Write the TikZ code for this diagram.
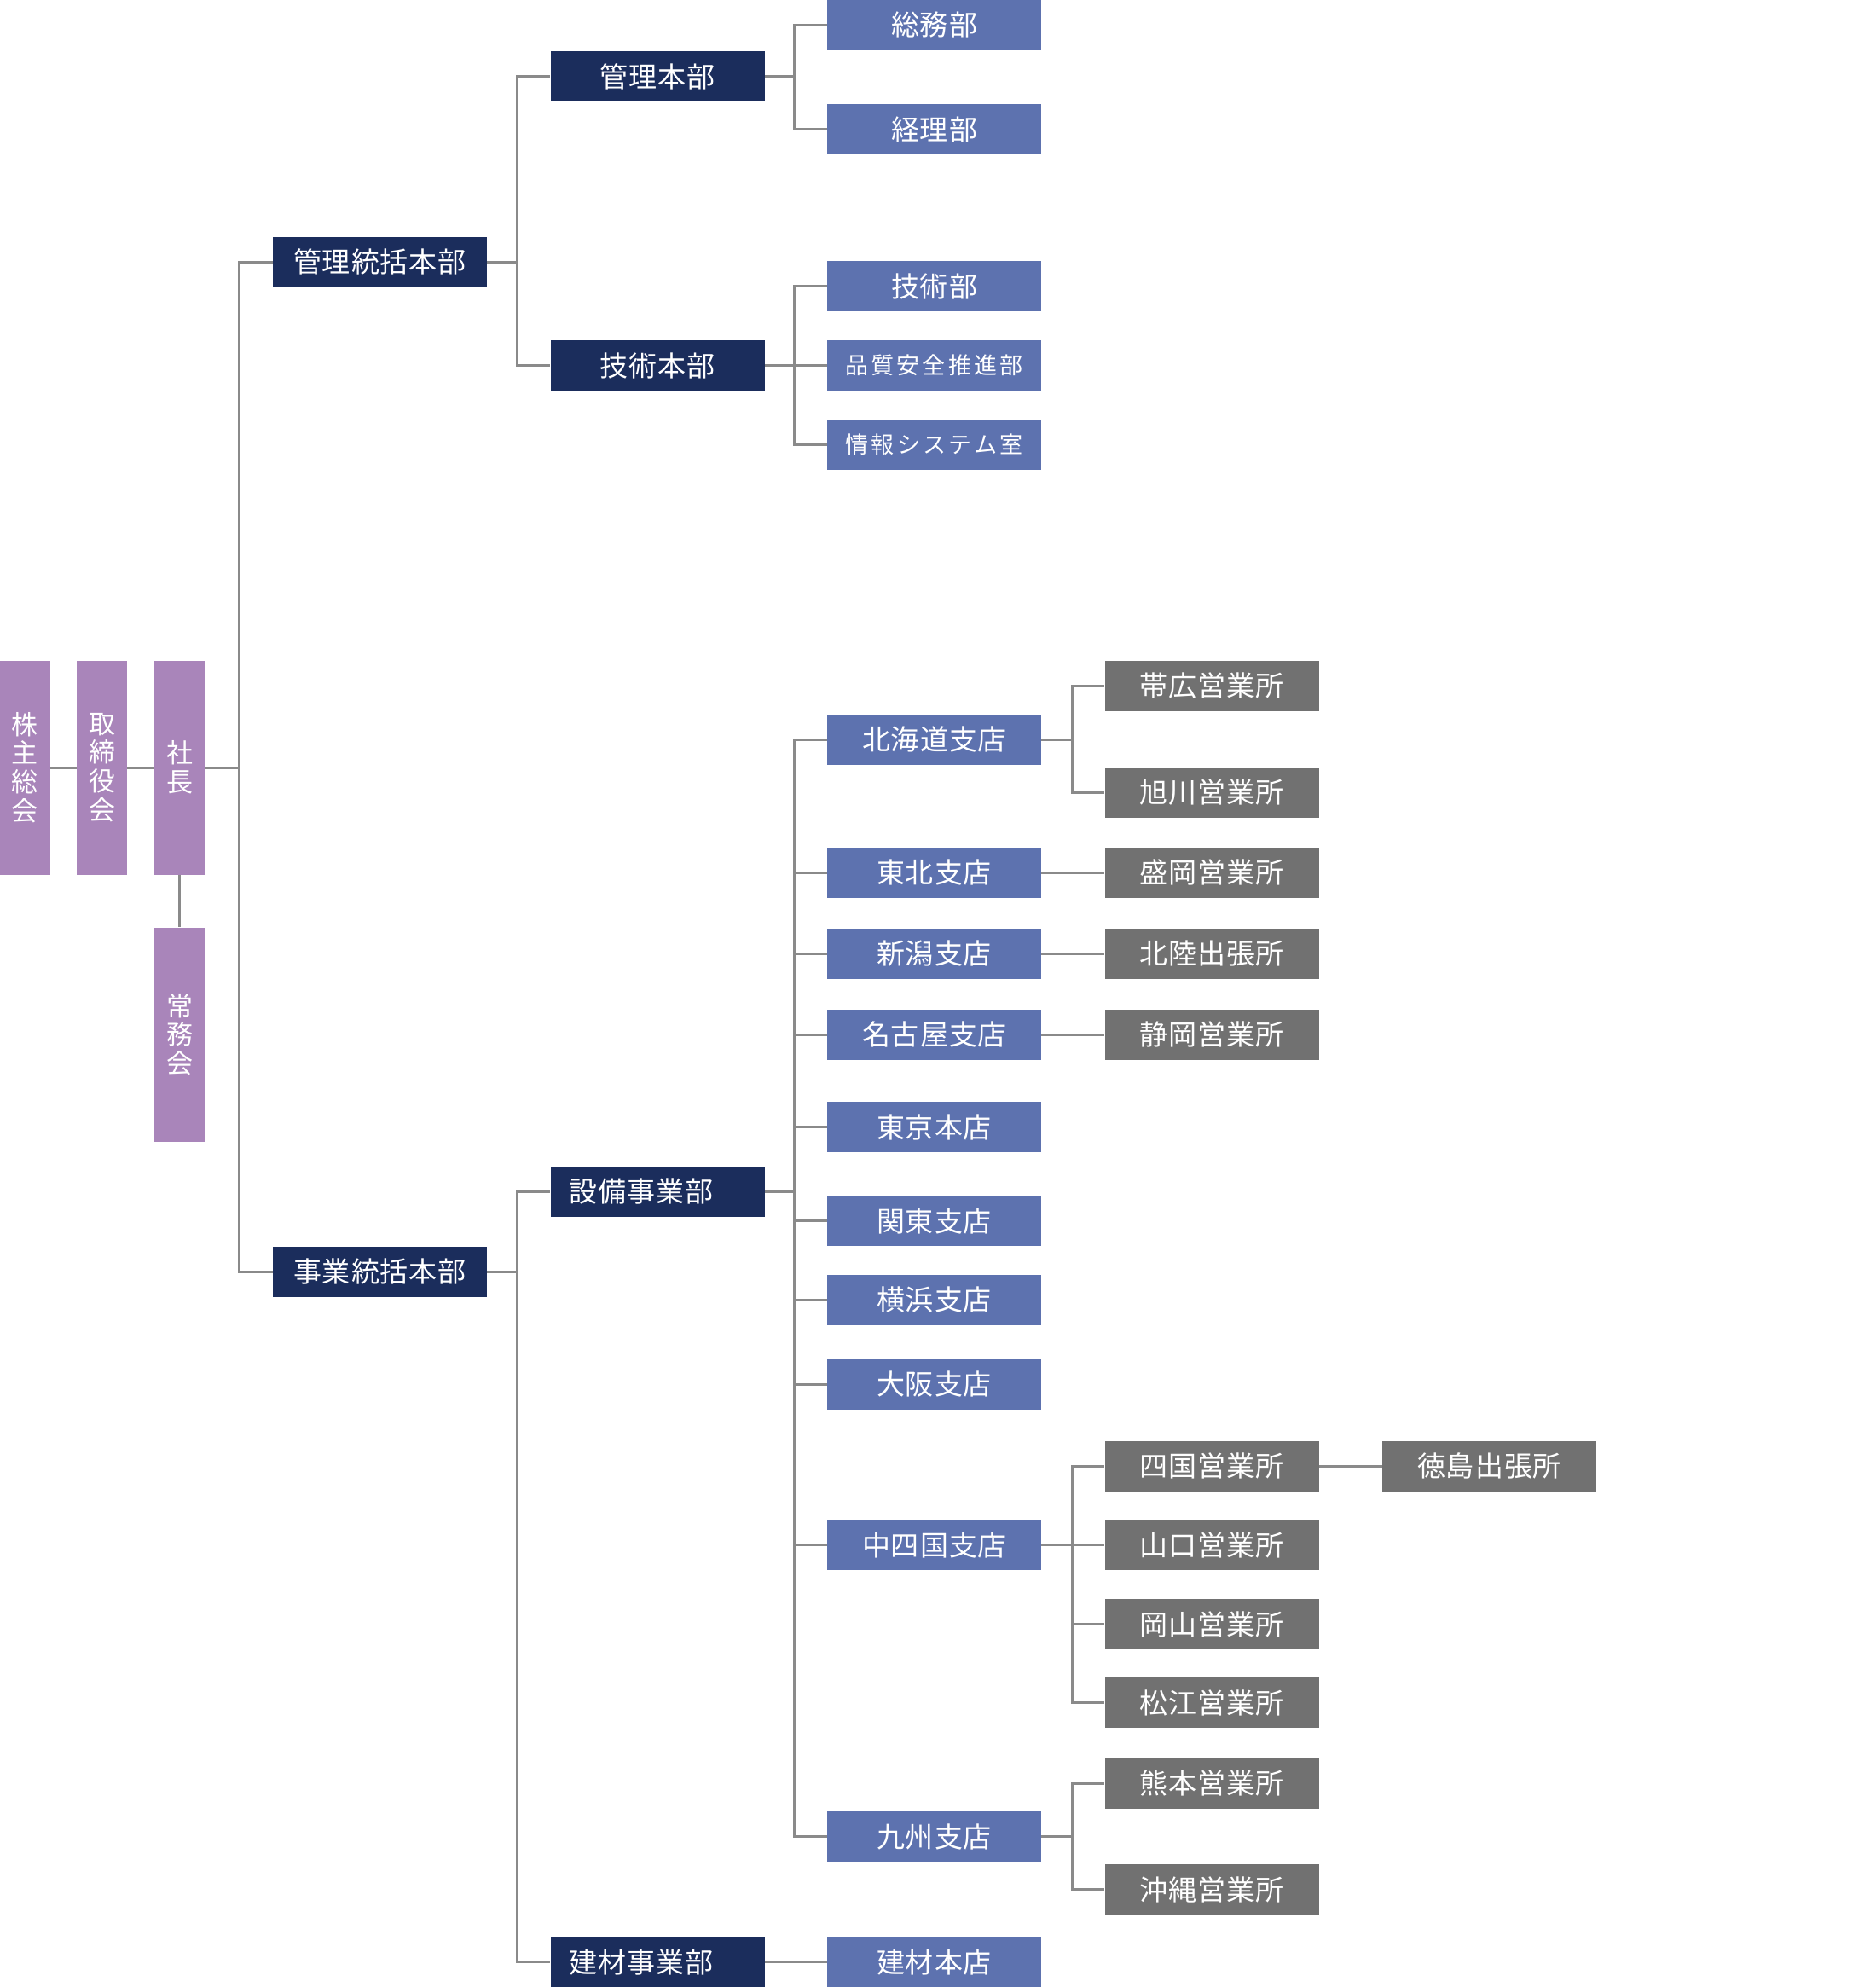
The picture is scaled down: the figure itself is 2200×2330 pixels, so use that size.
\documentclass[tikz,border=0pt]{standalone}
\usepackage{fontspec}
\setmainfont[LetterSpace=3]{Noto Sans CJK JP}
\newfontfamily\widefont[LetterSpace=12]{Noto Sans CJK JP}
\usetikzlibrary{positioning,calc}
\definecolor{navy}{HTML}{1B2D5C}
\definecolor{slate}{HTML}{5D72AF}
\definecolor{stone}{HTML}{717171}
\definecolor{lilac}{HTML}{A985BA}
\definecolor{wire}{HTML}{8A8A8A}

\begin{document}
\begin{tikzpicture}[x=0.5pt,y=-0.5pt,
    box/.style={text=white,inner sep=0pt,minimum width=125.5pt,minimum height=29.5pt,font=\fontsize{16.5}{18}\selectfont},
    hq/.style={box,fill=navy},
    hqleft/.style={hq,text width=103.5pt,align=left},
    dept/.style={box,fill=slate},
    deptsmall/.style={dept,font=\widefont\fontsize{13.5}{15}\selectfont},
    office/.style={box,fill=stone},
    board/.style={fill=lilac,text=white,inner sep=0pt,minimum width=29.5pt,minimum height=125.5pt,align=center,font=\fontsize{15.5}{16.8}\selectfont},
    link/.style={draw=wire,line width=1.5pt}]
  \useasboundingbox (0,0) rectangle (2200,2330);

  % top management
  \node[board] (kabunushi) at (29,900) {株\\主\\総\\会};
  \node[board] (torishimari) at (119.5,900) {取\\締\\役\\会};
  \node[board] (shacho) at (210.5,900) {社\\長};
  \node[board] (jomu) at (210.5,1213) {常\\務\\会};

  % headquarters
  \node[hq] (kanritokatsu) at (445.5,307) {管理統括本部};
  \node[hq] (jigyotokatsu) at (445.5,1491) {事業統括本部};
  \node[hq] (kanri) at (771,89.5) {管理本部};
  \node[hq] (gijutsu) at (771,428.5) {技術本部};
  \node[hqleft] (setsubi) at (771,1397) {設備事業部};
  \node[hqleft] (kenzai) at (771,2300.5) {建材事業部};

  % departments
  \node[dept] (somu) at (1095.5,29) {総務部};
  \node[dept] (keiri) at (1095.5,151.5) {経理部};
  \node[dept] (gijutsubu) at (1095.5,335.5) {技術部};
  \node[deptsmall] (hinshitsu) at (1095.5,428.5) {品質安全推進部};
  \node[deptsmall] (joho) at (1095.5,521.5) {情報システム室};

  % branches
  \node[dept] (hokkaido) at (1095.5,867) {北海道支店};
  \node[dept] (tohoku) at (1095.5,1023) {東北支店};
  \node[dept] (niigata) at (1095.5,1118) {新潟支店};
  \node[dept] (nagoya) at (1095.5,1213) {名古屋支店};
  \node[dept] (tokyo) at (1095.5,1321.5) {東京本店};
  \node[dept] (kanto) at (1095.5,1431.5) {関東支店};
  \node[dept] (yokohama) at (1095.5,1524) {横浜支店};
  \node[dept] (osaka) at (1095.5,1623) {大阪支店};
  \node[dept] (chushikoku) at (1095.5,1811.5) {中四国支店};
  \node[dept] (kyushu) at (1095.5,2153.5) {九州支店};
  \node[dept] (kenzaihonten) at (1095.5,2300.5) {建材本店};

  % offices
  \node[office] (obihiro) at (1421,804) {帯広営業所};
  \node[office] (asahikawa) at (1421,929) {旭川営業所};
  \node[office] (morioka) at (1421,1023) {盛岡営業所};
  \node[office] (hokuriku) at (1421,1118) {北陸出張所};
  \node[office] (shizuoka) at (1421,1213) {静岡営業所};
  \node[office] (shikoku) at (1421,1719) {四国営業所};
  \node[office] (yamaguchi) at (1421,1811.5) {山口営業所};
  \node[office] (okayama) at (1421,1904.5) {岡山営業所};
  \node[office] (matsue) at (1421,1996.5) {松江営業所};
  \node[office] (kumamoto) at (1421,2091) {熊本営業所};
  \node[office] (okinawa) at (1421,2215.5) {沖縄営業所};
  \node[office] (tokushima) at (1746.5,1719) {徳島出張所};

  % connectors
  \draw[link] (kabunushi) -- (torishimari) -- (shacho);
  \draw[link] (shacho) -- (jomu);
  \draw[link] (shacho.east) -- ++(40,0) coordinate (tshacho);
  \foreach \c in {kanritokatsu,jigyotokatsu} \draw[link] (tshacho) |- (\c);
  \draw[link] (kanritokatsu.east) -- ++(35,0) coordinate (tkanritokatsu);
  \foreach \c in {kanri,gijutsu} \draw[link] (tkanritokatsu) |- (\c);
  \draw[link] (jigyotokatsu.east) -- ++(35,0) coordinate (tjigyotokatsu);
  \foreach \c in {setsubi,kenzai} \draw[link] (tjigyotokatsu) |- (\c);
  \draw[link] (kanri.east) -- ++(35,0) coordinate (tkanri);
  \foreach \c in {somu,keiri} \draw[link] (tkanri) |- (\c);
  \draw[link] (gijutsu.east) -- ++(35,0) coordinate (tgijutsu);
  \foreach \c in {gijutsubu,hinshitsu,joho} \draw[link] (tgijutsu) |- (\c);
  \draw[link] (setsubi.east) -- ++(35,0) coordinate (tsetsubi);
  \foreach \c in {hokkaido,tohoku,niigata,nagoya,tokyo,kanto,yokohama,osaka,chushikoku,kyushu}
    \draw[link] (tsetsubi) |- (\c);
  \draw[link] (kenzai) -- (kenzaihonten);
  \draw[link] (hokkaido.east) -- ++(36,0) coordinate (thokkaido);
  \foreach \c in {obihiro,asahikawa} \draw[link] (thokkaido) |- (\c);
  \draw[link] (tohoku) -- (morioka);
  \draw[link] (niigata) -- (hokuriku);
  \draw[link] (nagoya) -- (shizuoka);
  \draw[link] (chushikoku.east) -- ++(36,0) coordinate (tchushikoku);
  \foreach \c in {shikoku,yamaguchi,okayama,matsue} \draw[link] (tchushikoku) |- (\c);
  \draw[link] (shikoku) -- (tokushima);
  \draw[link] (kyushu.east) -- ++(36,0) coordinate (tkyushu);
  \foreach \c in {kumamoto,okinawa} \draw[link] (tkyushu) |- (\c);
\end{tikzpicture}
\end{document}
